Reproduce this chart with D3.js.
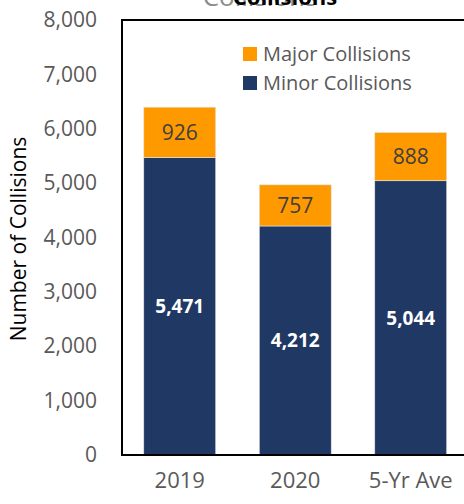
<!DOCTYPE html>
<html>
<head>
<meta charset="utf-8">
<script src="https://cdn.jsdelivr.net/npm/d3@7"></script>
<style>
  html, body { margin: 0; padding: 0; background: #fff; }
  svg { display: block; font-family: "Open Sans", "Noto Sans", sans-serif; }
</style>
</head>
<body>
<svg id="chart" width="464" height="504"></svg>
<script>
// Collisions by period, split into minor and major
const categories = ["2019", "2020", "5-Yr Ave"];
const minorCollisions = [5471, 4212, 5044];
const majorCollisions = [926, 757, 888];
const yTicks = [0, 1000, 2000, 3000, 4000, 5000, 6000, 7000, 8000];
const seriesNames = ["Major Collisions", "Minor Collisions"];

const colors = { minor: "#203864", major: "#FF9900" };

const svg = d3.select("#chart");
const plot = { left: 122, right: 468.5, top: 20, bottom: 455 };

const x = d3.scaleBand()
  .domain(categories)
  .range([plot.left, plot.right])
  .paddingInner(0.377)
  .paddingOuter(0.1885);

const y = d3.scaleLinear()
  .domain([0, 8000])
  .range([plot.bottom, plot.top]);

const fmt = d3.format(",");

// title, running off the top edge
svg.append("text")
  .attr("x", 260).attr("y", 6)
  .attr("text-anchor", "middle")
  .attr("fill", "#8c8c8c")
  .attr("font-size", 26)
  .text("Collisions");
svg.append("text")
  .attr("x", 285).attr("y", 5)
  .attr("text-anchor", "middle")
  .attr("fill", "#000")
  .attr("font-weight", "bold")
  .attr("font-size", 22)
  .text("Collisions");

// stacked bars
const rows = categories.map((c, i) => ({ cat: c, minor: minorCollisions[i], major: majorCollisions[i] }));
const stack = d3.stack().keys(["minor", "major"])(rows);

const layers = svg.append("g").selectAll("g")
  .data(stack)
  .join("g")
  .attr("fill", d => colors[d.key]);

layers.selectAll("rect")
  .data(d => d)
  .join("rect")
  .attr("x", d => x(d.data.cat))
  .attr("width", x.bandwidth())
  .attr("y", d => y(d[1]))
  .attr("height", d => y(d[0]) - y(d[1]))
  .attr("stroke", "#e6e6e6")
  .attr("stroke-width", 0.6);

// value labels
stack.forEach(layer => {
  svg.append("g").selectAll("text")
    .data(layer)
    .join("text")
    .attr("x", d => x(d.data.cat) + x.bandwidth() / 2)
    .attr("y", d => (y(d[0]) + y(d[1])) / 2)
    .attr("dy", "0.36em")
    .attr("text-anchor", "middle")
    .attr("font-size", layer.key === "minor" ? 19 : 21)
    .attr("font-weight", layer.key === "minor" ? "bold" : "normal")
    .attr("fill", layer.key === "minor" ? "#ffffff" : "#404040")
    .text(d => fmt(d.data[layer.key]));
});

// plot frame
svg.append("rect")
  .attr("x", plot.left).attr("y", plot.top)
  .attr("width", 480 - plot.left).attr("height", plot.bottom - plot.top)
  .attr("fill", "none")
  .attr("stroke", "#000")
  .attr("stroke-width", 2);

// y axis labels
const yAxis = d3.axisLeft(y).tickValues(yTicks).tickFormat(fmt).tickSize(0).tickPadding(0);
const gy = svg.append("g").attr("transform", "translate(97,0)").call(yAxis);
gy.select(".domain").remove();
gy.selectAll("text")
  .attr("fill", "#595959")
  .attr("font-size", 21)
  .attr("font-family", "'Open Sans', sans-serif");

// x axis labels
const xAxis = d3.axisBottom(x).tickSize(0).tickPadding(0);
const gx = svg.append("g").attr("transform", "translate(0,472)").call(xAxis);
gx.select(".domain").remove();
gx.selectAll("text")
  .attr("fill", "#595959")
  .attr("font-size", 22)
  .attr("font-family", "'Open Sans', sans-serif");

// y axis title
svg.append("text")
  .attr("transform", "translate(26,239) rotate(-90)")
  .attr("text-anchor", "middle")
  .attr("fill", "#000")
  .attr("font-size", 21)
  .text("Number of Collisions");

// legend
const legend = svg.append("g");
const legendItems = [
  { name: seriesNames[0], color: colors.major, y: 54 },
  { name: seriesNames[1], color: colors.minor, y: 83 }
];
legendItems.forEach(it => {
  legend.append("rect")
    .attr("x", 243).attr("y", it.y - 7)
    .attr("width", 14).attr("height", 14)
    .attr("fill", it.color);
  legend.append("text")
    .attr("x", 263).attr("y", it.y)
    .attr("dy", "0.35em")
    .attr("fill", "#595959")
    .attr("font-size", 20)
    .text(it.name);
});
</script>
</body>
</html>
